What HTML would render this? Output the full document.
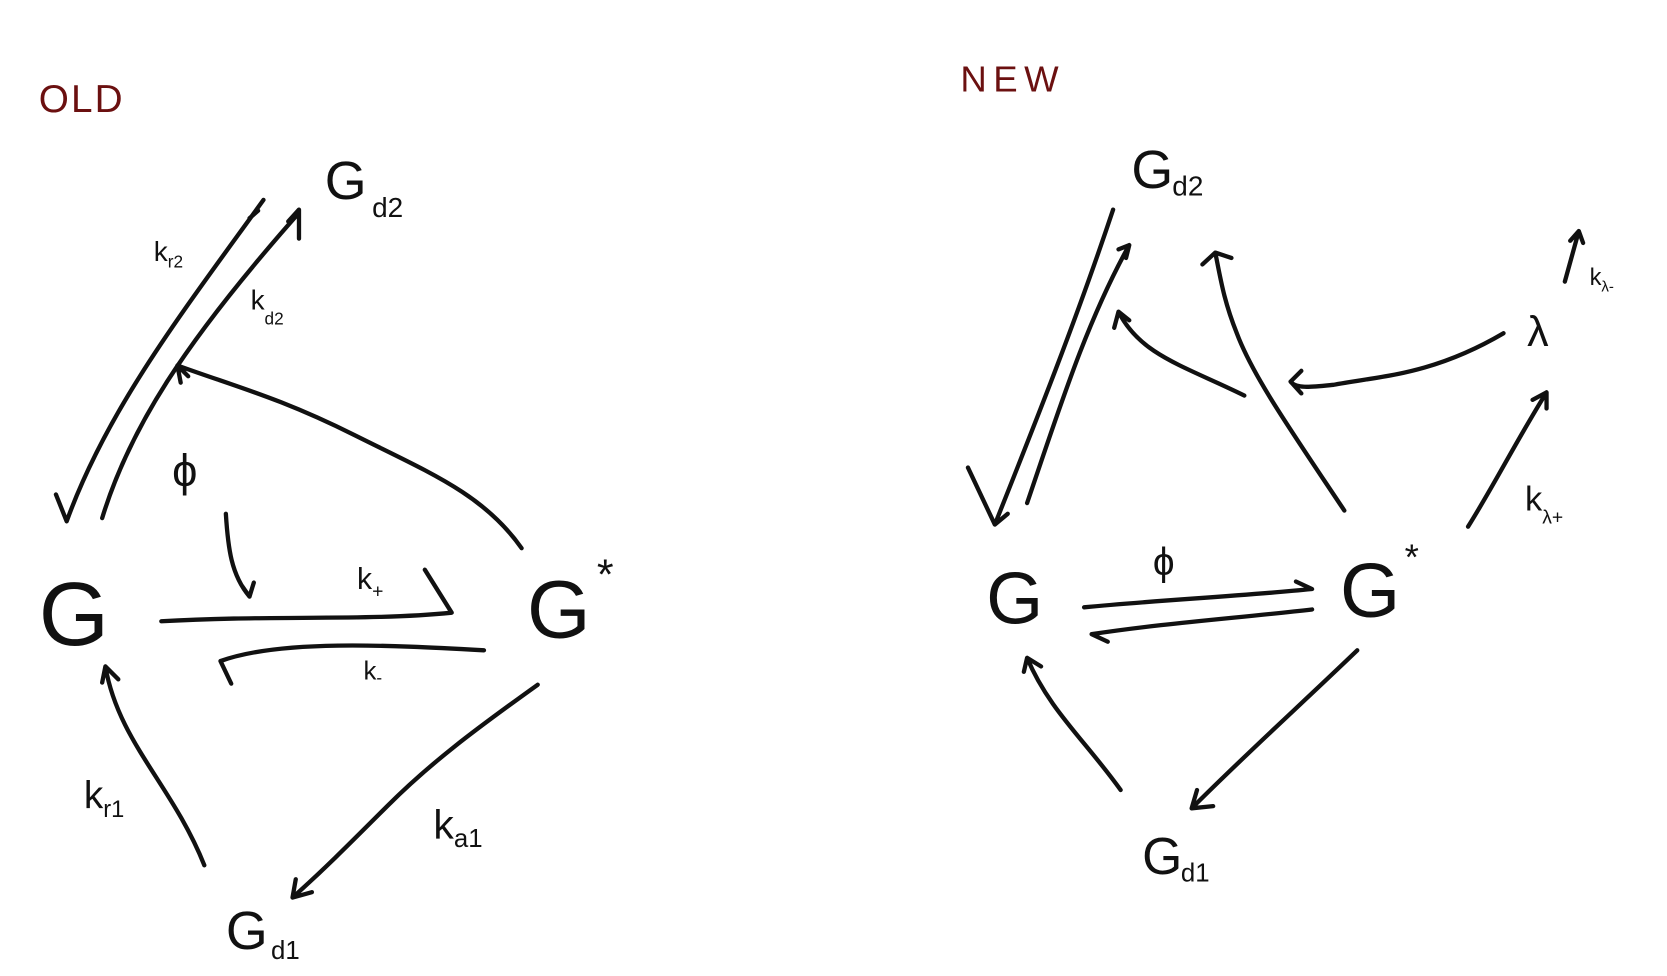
<!DOCTYPE html>
<html><head><meta charset="utf-8"><style>
html,body{margin:0;padding:0;background:#fff;width:1667px;height:976px;overflow:hidden}
svg{display:block}
text{font-family:"Liberation Sans",sans-serif;fill:#111}
.a{fill:none;stroke:#111;stroke-width:4;stroke-linecap:round;stroke-linejoin:round}
.t{fill:none;stroke:#111;stroke-width:3;stroke-linecap:round}
</style></head><body>
<svg width="1667" height="976" viewBox="0 0 1550 908" preserveAspectRatio="none">
<!-- OLD -->
<text x="36" y="104" font-size="36" style="fill:#6b1010;letter-spacing:2px">OLD</text>
<g>
<text x="36" y="600" font-size="84">G</text>
<text x="490" y="593" font-size="76">G</text>
<text x="555" y="548" font-size="40">*</text>
<text x="302" y="185" font-size="50">G</text>
<text x="346" y="202" font-size="26">d2</text>
<text x="210" y="883" font-size="50">G</text>
<text x="252" y="892" font-size="24">d1</text>
<text x="160" y="452" font-size="42">ϕ</text>
<text x="143" y="243" font-size="26">k<tspan font-size="16" dy="6">r2</tspan></text>
<text x="233" y="288" font-size="26">k<tspan font-size="16" dy="14">d2</tspan></text>
<text x="332" y="548" font-size="28">k<tspan font-size="18" dy="8">+</tspan></text>
<text x="338" y="632" font-size="24">k<tspan font-size="16" dy="4">-</tspan></text>
<text x="78" y="752" font-size="36">k<tspan font-size="22" dy="8">r1</tspan></text>
<text x="403" y="780" font-size="38">k<tspan font-size="24" dy="8">a1</tspan></text>
<path class="a" d="M95,482 C120,400 170,320 278,198 M278,222 L278,195 L268,206"/>
<path class="a" d="M245,186 C170,290 100,380 62,485 L52,460 M232,203 L240,196"/>
<path class="a" d="M485,510 C450,460 400,440 330,405 C260,370 220,360 165,340 L175,350 M165,340 L168,356"/>
<path class="a" d="M210,478 C212,510 215,535 232,555 L225,545 M232,555 L236,542"/>
<path class="a" d="M150,578 C250,572 340,578 420,570 L395,530"/>
<path class="a" d="M450,605 C360,600 260,595 205,615 L215,636"/>
<path class="a" d="M190,805 C160,730 110,690 98,620 L95,635 M98,620 L110,632"/>
<path class="a" d="M500,637 C440,680 400,710 360,750 C320,790 300,810 272,835 L290,830 M272,835 L275,818"/>
</g>
<!-- NEW -->
<text x="893" y="85" font-size="34" style="fill:#6b1010;letter-spacing:6px">NEW</text>
<g>
<text x="917" y="580" font-size="68">G</text>
<text x="1246" y="574" font-size="72">G</text>
<text x="1306" y="530" font-size="34">*</text>
<text x="1052" y="175" font-size="50">G</text>
<text x="1090" y="182" font-size="26">d2</text>
<text x="1062" y="813" font-size="48">G</text>
<text x="1098" y="820" font-size="24">d1</text>
<text x="1072" y="535" font-size="36">ϕ</text>
<text x="1420" y="322" font-size="40">λ</text>
<text x="1478" y="265" font-size="22">k<tspan font-size="14" dy="6">λ-</tspan></text>
<text x="1418" y="475" font-size="32">k<tspan font-size="18" dy="12">λ+</tspan></text>
<path class="a" d="M955,468 C985,380 1010,300 1050,228 L1040,232 M1050,228 L1047,240"/>
<path class="a" d="M1035,195 C1000,300 960,400 925,488 L900,435 M925,488 L937,478"/>
<path class="a" d="M1157,368 C1100,340 1060,330 1040,290 L1036,305 M1040,290 L1050,298"/>
<path class="a" d="M1250,475 C1200,400 1165,350 1150,310 C1138,280 1135,260 1130,235 L1118,246 M1130,235 L1145,240"/>
<path class="a" d="M1398,310 C1330,350 1280,350 1240,358 C1220,360 1205,362 1200,355 L1210,345 M1200,355 L1210,366"/>
<path class="a" d="M1455,262 L1468,215 L1460,224 M1468,215 L1472,226"/>
<path class="a" d="M1365,490 C1390,450 1410,410 1438,365 L1425,372 M1438,365 L1438,380"/>
<path class="a" d="M1008,565 C1080,558 1150,555 1220,548 L1205,541"/>
<path class="a" d="M1220,567 C1150,575 1080,580 1015,590 L1030,597"/>
<path class="a" d="M1262,605 C1210,655 1160,700 1108,752 L1128,750 M1108,752 L1113,735"/>
<path class="a" d="M1042,735 C1010,690 975,660 955,612 L952,625 M955,612 L968,620"/>
</g>
</svg>
</body></html>
